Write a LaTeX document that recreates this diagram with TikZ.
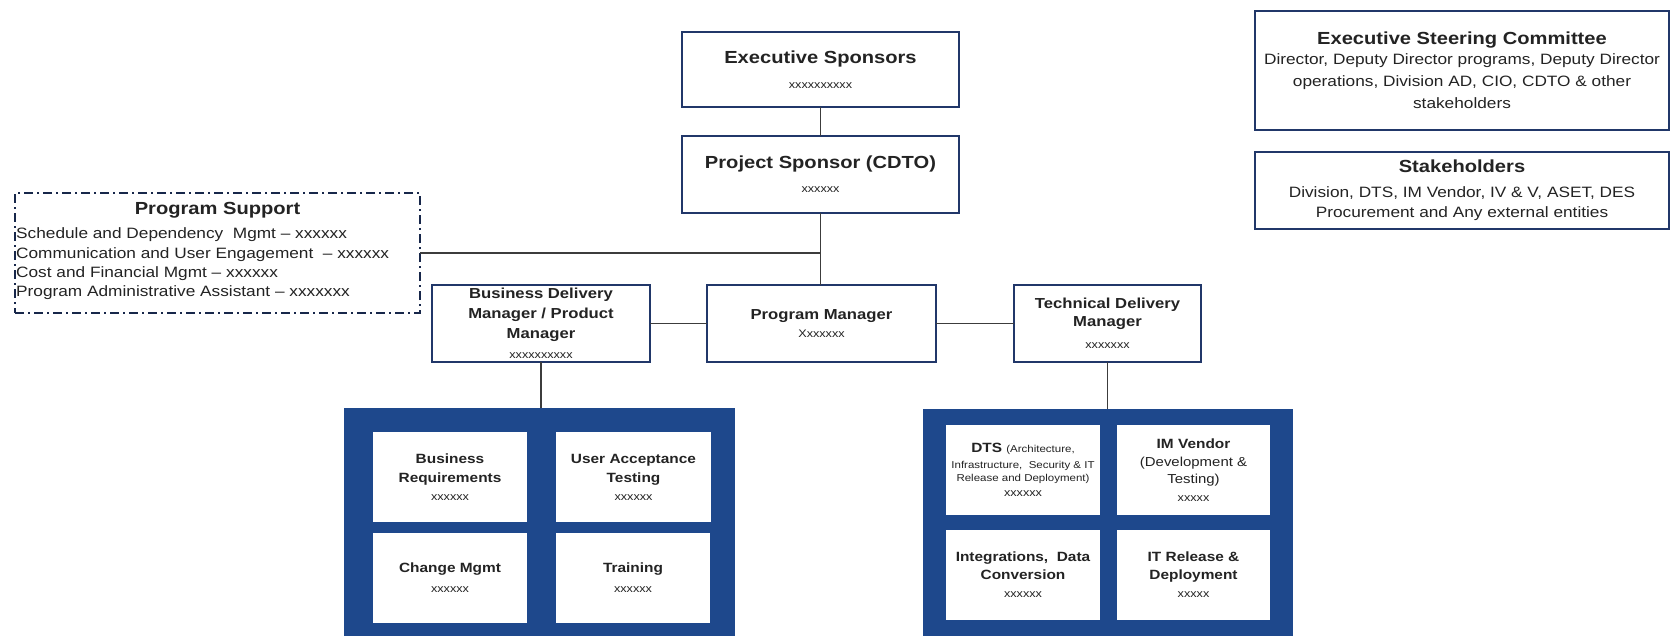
\documentclass[tikz,border=0pt]{standalone}
\usepackage{fontspec}
\setmainfont{Liberation Sans}[FakeStretch=1.15]
\usepackage{tikz}

\definecolor{boxline}{RGB}{33,55,105}
\definecolor{teamblue}{RGB}{30,72,140}
\definecolor{linkgray}{RGB}{60,60,60}
\definecolor{txtgray}{RGB}{35,35,35}

\newcommand{\hdfnt}{\fontsize{17.5}{20}\selectfont\bfseries}
\newcommand{\mgrfnt}{\fontsize{14.5}{20}\selectfont\bfseries}
\newcommand{\unitfnt}{\fontsize{13.4}{19}\selectfont\bfseries}
\newcommand{\bodyfnt}{\fontsize{15}{19}\selectfont}
\newcommand{\listfnt}{\fontsize{15}{19.3}\selectfont}
\newcommand{\smallfnt}{\fontsize{10}{13}\selectfont}
\newcommand{\idfnt}{\fontsize{11}{14}\selectfont}

\tikzset{
    role/.style={draw=boxline, line width=1.6pt, fill=white, inner sep=0pt, outer sep=0pt,
        align=center, text=txtgray, font=\fontsize{14.5}{20}\selectfont},
    supportbox/.style={draw=boxline!70!black, line width=1.6pt, inner sep=0pt, outer sep=0pt,
        dash pattern=on 9pt off 4pt on 2pt off 4pt},
    team/.style={fill=teamblue, inner sep=0pt, outer sep=0pt},
    unit/.style={fill=white, inner sep=0pt, outer sep=0pt, minimum height=90pt,
        align=center, text=txtgray, font=\fontsize{13.4}{19}\selectfont},
    link/.style={draw=linkgray, line width=1.8pt}
}

\begin{document}
\begin{tikzpicture}[x=1pt, y=-1pt]
    \useasboundingbox[fill=white] (0,0) rectangle (1670,635);

    % Top of the chart
    \node[role, minimum width=277pt, minimum height=75pt] (exec) at (820.5,69.5)
        {{\hdfnt Executive Sponsors}\\[5pt]{\idfnt xxxxxxxxxx}};
    \node[role, minimum width=277pt, minimum height=77pt] (proj) at (820.5,174.5)
        {{\hdfnt Project Sponsor (CDTO)}\\[4pt]{\idfnt xxxxxx}};

    % Committees on the right
    \node[role, minimum width=414pt, minimum height=119pt] (esc) at (1462,70.5)
        {{\hdfnt Executive Steering Committee}\\[0pt]
         {\bodyfnt Director, Deputy Director programs, Deputy Director}\\[2pt]
         {\bodyfnt operations, Division AD, CIO, CDTO \& other}\\[2pt]
         {\bodyfnt stakeholders}};
    \node[role, minimum width=414pt, minimum height=77pt] (stake) at (1462,190.5)
        {{\hdfnt Stakeholders}\\[5pt]
         {\bodyfnt Division, DTS, IM Vendor, IV \& V, ASET, DES}\\
         {\bodyfnt Procurement and Any external entities}};

    % Program support (dash-dot box)
    \node[supportbox, minimum width=405pt, minimum height=120pt] (support) at (217.5,253) {};
    \node[text=txtgray, font=\hdfnt] (supporttitle) at (217.5,210) {Program Support};
    \node[anchor=west, align=left, inner sep=0pt, text=txtgray, font=\listfnt] (supportlist) at (16,264)
        {Schedule and Dependency\ \ Mgmt – xxxxxx\\
         Communication and User Engagement\ \ – xxxxxx\\
         Cost and Financial Mgmt – xxxxxx\\
         Program Administrative Assistant – xxxxxxx};

    % Managers row
    \node[role, minimum width=218pt, minimum height=77pt] (bdm) at (541,323.5)
        {{\mgrfnt Business Delivery}\\{\mgrfnt Manager / Product}\\{\mgrfnt Manager}\\{\idfnt xxxxxxxxxx}};
    \node[role, minimum width=229pt, minimum height=77pt] (pm) at (821.5,323.5)
        {{\mgrfnt Program Manager}\\[-2pt]{\idfnt Xxxxxxx}};
    \node[role, minimum width=187pt, minimum height=77pt] (tdm) at (1107.5,323.5)
        {{\mgrfnt Technical Delivery}\\[-2pt]{\mgrfnt Manager}\\[2pt]{\idfnt xxxxxxx}};

    % Business team
    \node[team, minimum width=391pt, minimum height=232pt] (bizteam) at (539.5,524) {};
    \node[unit, minimum width=154pt] (bizreq) at (450,477)
        {{\unitfnt Business}\\{\unitfnt Requirements}\\[-1pt]{\idfnt xxxxxx}};
    \node[unit, minimum width=155pt] (uat) at (633.5,477)
        {{\unitfnt User Acceptance}\\{\unitfnt Testing}\\[-1pt]{\idfnt xxxxxx}};
    \node[unit, minimum width=154pt] (change) at (450,578)
        {{\unitfnt Change Mgmt}\\[1pt]{\idfnt xxxxxx}};
    \node[unit, minimum width=154pt] (training) at (633,578)
        {{\unitfnt Training}\\[1pt]{\idfnt xxxxxx}};

    % Technical team
    \node[team, minimum width=370pt, minimum height=232pt] (techteam) at (1108,525) {};
    \node[unit, minimum width=154pt] (dts) at (1023,470)
        {{\unitfnt DTS} {\smallfnt (Architecture,}\\[-3pt]
         {\smallfnt Infrastructure,\ \ Security \& IT}\\[-6pt]
         {\smallfnt Release and Deployment)}\\[-4pt]{\idfnt xxxxxx}};
    \node[unit, minimum width=153pt] (imvendor) at (1193.5,470)
        {{\unitfnt IM Vendor}\\[-1pt]{\fontsize{13}{17}\selectfont (Development \&}\\[-2pt]
         {\fontsize{13}{17}\selectfont Testing)}\\[-1pt]{\idfnt xxxxx}};
    \node[unit, minimum width=154pt] (integ) at (1023,575)
        {{\unitfnt Integrations,\ \ Data}\\[-1pt]{\unitfnt Conversion}\\[-1pt]{\idfnt xxxxxx}};
    \node[unit, minimum width=153pt] (itrel) at (1193.5,575)
        {{\unitfnt IT Release \&}\\[-1pt]{\unitfnt Deployment}\\[-1pt]{\idfnt xxxxx}};

    % Connectors
    \draw[link] (exec.south) -- (proj.north);
    \draw[link] (proj.south) -- (proj.south |- pm.north);
    \draw[link] (support.east) -- (proj.south |- support.east);
    \draw[link] (bdm.east) -- (pm.west);
    \draw[link] (pm.east) -- (tdm.west);
    \draw[link] (bdm.south) -- (bdm.south |- bizteam.north);
    \draw[link] (tdm.south) -- (tdm.south |- techteam.north);
\end{tikzpicture}
\end{document}
